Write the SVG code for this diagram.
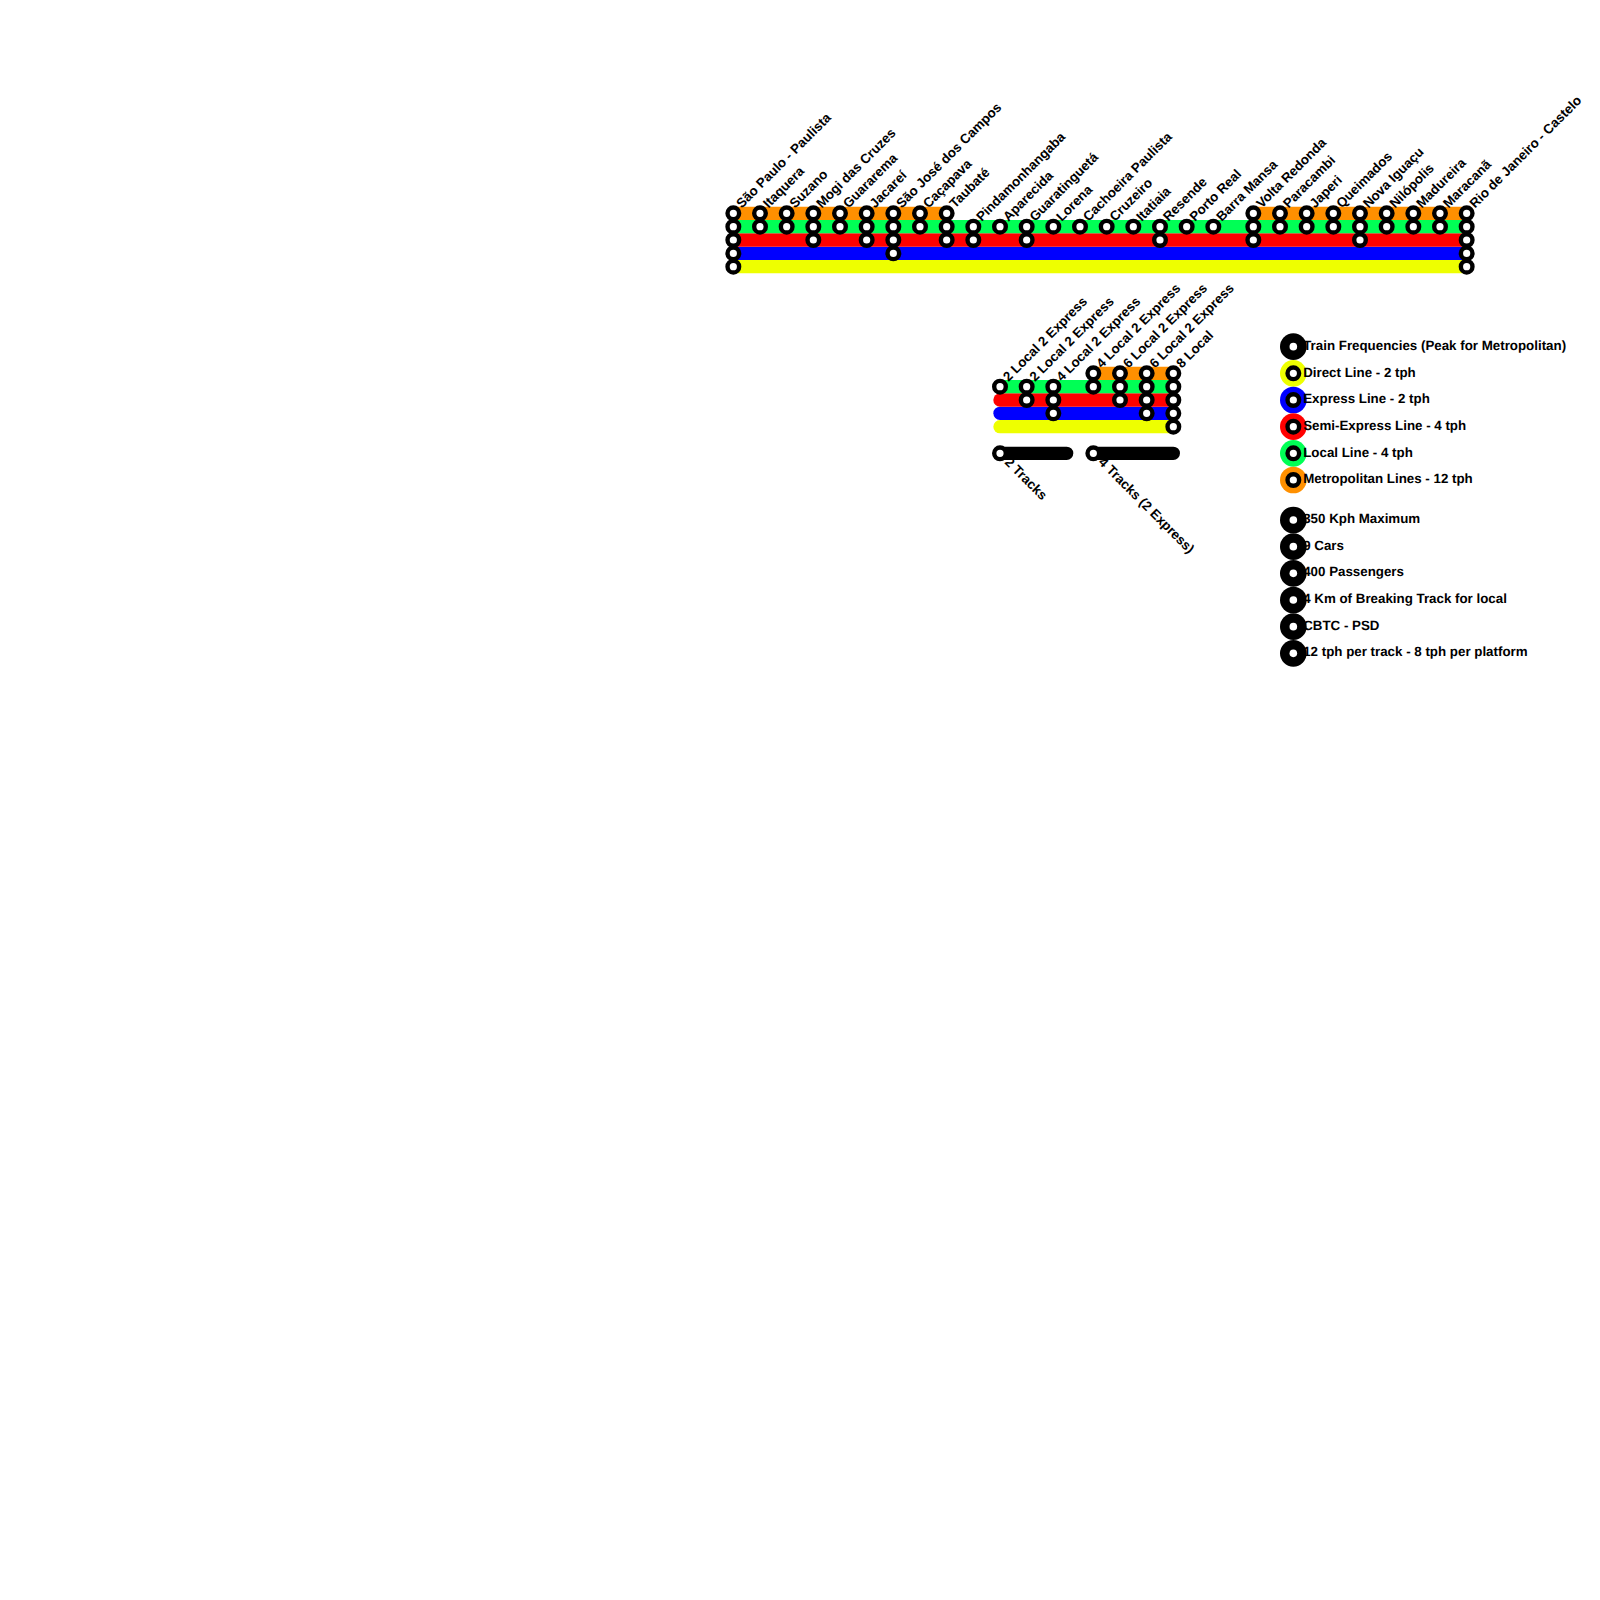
<svg xmlns="http://www.w3.org/2000/svg" width="1600" height="1600" viewBox="0 0 1600 1600">
<style>
text{font-family:"Liberation Sans",Arial,sans-serif;font-weight:700;font-size:13.33px;fill:#000;text-rendering:geometricPrecision}
.l{fill:none;stroke-width:13.33;stroke-linecap:round}
.o{stroke:#ff9000}.g{stroke:#00ff55}.r{stroke:#ff0000}.b{stroke:#0000ff}.y{stroke:#eeff00}.k{stroke:#000}
.s{fill:#fff;stroke:#000;stroke-width:4.4}
</style>
<rect width="1600" height="1600" fill="#fff"/>
<g id="connectors">
<path class="l y" d="M733.33 266.67H1466.67"/>
<path class="l b" d="M733.33 253.33H1466.67"/>
<path class="l r" d="M733.33 240H1466.67"/>
<path class="l g" d="M733.33 226.67H1466.67"/>
<path class="l o" d="M733.33 213.33H946.67M1253.33 213.33H1466.67"/>
<path class="l y" d="M1000 426.67H1173.33"/>
<path class="l b" d="M1000 413.33H1173.33"/>
<path class="l r" d="M1000 400H1173.33"/>
<path class="l g" d="M1000 386.67H1173.33"/>
<path class="l o" d="M1093.33 373.33H1173.33"/>
<path class="l k" d="M1000 453.33H1066.67M1093.33 453.33H1173.33"/>
</g>
<g id="stations-main">
<g id="n00"><circle class="s" cx="733.33" cy="213.33" r="5.8"/><circle class="s" cx="733.33" cy="226.67" r="5.8"/><circle class="s" cx="733.33" cy="240" r="5.8"/><circle class="s" cx="733.33" cy="253.33" r="5.8"/><circle class="s" cx="733.33" cy="266.67" r="5.8"/><text transform="translate(741.7 208.7) rotate(-45)">São Paulo - Paulista</text></g>
<g id="n01"><circle class="s" cx="760" cy="213.33" r="5.8"/><circle class="s" cx="760" cy="226.67" r="5.8"/><text transform="translate(768.4 208.7) rotate(-45)">Itaquera</text></g>
<g id="n02"><circle class="s" cx="786.67" cy="213.33" r="5.8"/><circle class="s" cx="786.67" cy="226.67" r="5.8"/><text transform="translate(795 208.7) rotate(-45)">Suzano</text></g>
<g id="n03"><circle class="s" cx="813.33" cy="213.33" r="5.8"/><circle class="s" cx="813.33" cy="226.67" r="5.8"/><circle class="s" cx="813.33" cy="240" r="5.8"/><text transform="translate(821.7 208.7) rotate(-45)">Mogi das Cruzes</text></g>
<g id="n04"><circle class="s" cx="840" cy="213.33" r="5.8"/><circle class="s" cx="840" cy="226.67" r="5.8"/><text transform="translate(848.4 208.7) rotate(-45)">Guararema</text></g>
<g id="n05"><circle class="s" cx="866.67" cy="213.33" r="5.8"/><circle class="s" cx="866.67" cy="226.67" r="5.8"/><circle class="s" cx="866.67" cy="240" r="5.8"/><text transform="translate(875 208.7) rotate(-45)">Jacareí</text></g>
<g id="n06"><circle class="s" cx="893.33" cy="213.33" r="5.8"/><circle class="s" cx="893.33" cy="226.67" r="5.8"/><circle class="s" cx="893.33" cy="240" r="5.8"/><circle class="s" cx="893.33" cy="253.33" r="5.8"/><text transform="translate(901.7 208.7) rotate(-45)">São José dos Campos</text></g>
<g id="n07"><circle class="s" cx="920" cy="213.33" r="5.8"/><circle class="s" cx="920" cy="226.67" r="5.8"/><text transform="translate(928.4 208.7) rotate(-45)">Caçapava</text></g>
<g id="n08"><circle class="s" cx="946.67" cy="213.33" r="5.8"/><circle class="s" cx="946.67" cy="226.67" r="5.8"/><circle class="s" cx="946.67" cy="240" r="5.8"/><text transform="translate(955 208.7) rotate(-45)">Taubaté</text></g>
<g id="n09"><circle class="s" cx="973.33" cy="226.67" r="5.8"/><circle class="s" cx="973.33" cy="240" r="5.8"/><text transform="translate(981.7 222) rotate(-45)">Pindamonhangaba</text></g>
<g id="n10"><circle class="s" cx="1000" cy="226.67" r="5.8"/><text transform="translate(1008.4 222) rotate(-45)">Aparecida</text></g>
<g id="n11"><circle class="s" cx="1026.67" cy="226.67" r="5.8"/><circle class="s" cx="1026.67" cy="240" r="5.8"/><text transform="translate(1035 222) rotate(-45)">Guaratinguetá</text></g>
<g id="n12"><circle class="s" cx="1053.33" cy="226.67" r="5.8"/><text transform="translate(1061.7 222) rotate(-45)">Lorena</text></g>
<g id="n13"><circle class="s" cx="1080" cy="226.67" r="5.8"/><text transform="translate(1088.4 222) rotate(-45)">Cachoeira Paulista</text></g>
<g id="n14"><circle class="s" cx="1106.67" cy="226.67" r="5.8"/><text transform="translate(1115 222) rotate(-45)">Cruzeiro</text></g>
<g id="n15"><circle class="s" cx="1133.33" cy="226.67" r="5.8"/><text transform="translate(1141.7 222) rotate(-45)">Itatiaia</text></g>
<g id="n16"><circle class="s" cx="1160" cy="226.67" r="5.8"/><circle class="s" cx="1160" cy="240" r="5.8"/><text transform="translate(1168.4 222) rotate(-45)">Resende</text></g>
<g id="n17"><circle class="s" cx="1186.67" cy="226.67" r="5.8"/><text transform="translate(1195 222) rotate(-45)">Porto Real</text></g>
<g id="n18"><circle class="s" cx="1213.33" cy="226.67" r="5.8"/><text transform="translate(1221.7 222) rotate(-45)">Barra Mansa</text></g>
<g id="n19"><circle class="s" cx="1253.33" cy="213.33" r="5.8"/><circle class="s" cx="1253.33" cy="226.67" r="5.8"/><circle class="s" cx="1253.33" cy="240" r="5.8"/><text transform="translate(1261.7 208.7) rotate(-45)">Volta Redonda</text></g>
<g id="n20"><circle class="s" cx="1280" cy="213.33" r="5.8"/><circle class="s" cx="1280" cy="226.67" r="5.8"/><text transform="translate(1288.4 208.7) rotate(-45)">Paracambi</text></g>
<g id="n21"><circle class="s" cx="1306.67" cy="213.33" r="5.8"/><circle class="s" cx="1306.67" cy="226.67" r="5.8"/><text transform="translate(1315 208.7) rotate(-45)">Japeri</text></g>
<g id="n22"><circle class="s" cx="1333.33" cy="213.33" r="5.8"/><circle class="s" cx="1333.33" cy="226.67" r="5.8"/><text transform="translate(1341.7 208.7) rotate(-45)">Queimados</text></g>
<g id="n23"><circle class="s" cx="1360" cy="213.33" r="5.8"/><circle class="s" cx="1360" cy="226.67" r="5.8"/><circle class="s" cx="1360" cy="240" r="5.8"/><text transform="translate(1368.4 208.7) rotate(-45)">Nova Iguaçu</text></g>
<g id="n24"><circle class="s" cx="1386.67" cy="213.33" r="5.8"/><circle class="s" cx="1386.67" cy="226.67" r="5.8"/><text transform="translate(1395 208.7) rotate(-45)">Nilópolis</text></g>
<g id="n25"><circle class="s" cx="1413.33" cy="213.33" r="5.8"/><circle class="s" cx="1413.33" cy="226.67" r="5.8"/><text transform="translate(1421.7 208.7) rotate(-45)">Madureira</text></g>
<g id="n26"><circle class="s" cx="1440" cy="213.33" r="5.8"/><circle class="s" cx="1440" cy="226.67" r="5.8"/><text transform="translate(1448.4 208.7) rotate(-45)">Maracanã</text></g>
<g id="n27"><circle class="s" cx="1466.67" cy="213.33" r="5.8"/><circle class="s" cx="1466.67" cy="226.67" r="5.8"/><circle class="s" cx="1466.67" cy="240" r="5.8"/><circle class="s" cx="1466.67" cy="253.33" r="5.8"/><circle class="s" cx="1466.67" cy="266.67" r="5.8"/><text transform="translate(1475 208.7) rotate(-45)">Rio de Janeiro - Castelo</text></g>
</g>
<g id="stations-frequency">
<g id="f1"><circle class="s" cx="1000" cy="386.67" r="5.8"/><text transform="translate(1008.4 382) rotate(-45)">2 Local 2 Express</text></g>
<g id="f2"><circle class="s" cx="1026.67" cy="386.67" r="5.8"/><circle class="s" cx="1026.67" cy="400" r="5.8"/><text transform="translate(1035 382) rotate(-45)">2 Local 2 Express</text></g>
<g id="f3"><circle class="s" cx="1053.33" cy="386.67" r="5.8"/><circle class="s" cx="1053.33" cy="400" r="5.8"/><circle class="s" cx="1053.33" cy="413.33" r="5.8"/><text transform="translate(1061.7 382) rotate(-45)">4 Local 2 Express</text></g>
<g id="f4"><circle class="s" cx="1093.33" cy="373.33" r="5.8"/><circle class="s" cx="1093.33" cy="386.67" r="5.8"/><text transform="translate(1101.7 368.7) rotate(-45)">4 Local 2 Express</text></g>
<g id="f5"><circle class="s" cx="1120" cy="373.33" r="5.8"/><circle class="s" cx="1120" cy="386.67" r="5.8"/><circle class="s" cx="1120" cy="400" r="5.8"/><text transform="translate(1128.4 368.7) rotate(-45)">6 Local 2 Express</text></g>
<g id="f6"><circle class="s" cx="1146.67" cy="373.33" r="5.8"/><circle class="s" cx="1146.67" cy="386.67" r="5.8"/><circle class="s" cx="1146.67" cy="400" r="5.8"/><circle class="s" cx="1146.67" cy="413.33" r="5.8"/><text transform="translate(1155 368.7) rotate(-45)">6 Local 2 Express</text></g>
<g id="f7"><circle class="s" cx="1173.33" cy="373.33" r="5.8"/><circle class="s" cx="1173.33" cy="386.67" r="5.8"/><circle class="s" cx="1173.33" cy="400" r="5.8"/><circle class="s" cx="1173.33" cy="413.33" r="5.8"/><circle class="s" cx="1173.33" cy="426.67" r="5.8"/><text transform="translate(1181.7 368.7) rotate(-45)">8 Local</text></g>
<g id="t1"><circle class="s" cx="1000" cy="453.33" r="5.8"/><text transform="translate(1004 463) rotate(45)">2 Tracks</text></g>
<g id="t2"><circle class="s" cx="1093.33" cy="453.33" r="5.8"/><text transform="translate(1097.8 463) rotate(45)">4 Tracks (2 Express)</text></g>
</g>
<g id="legend">
<g id="lg1"><circle cx="1293.33" cy="346.67" r="13.33"/><circle cx="1293.33" cy="346.67" r="3.8" fill="#fff"/><text x="1303.2" y="350">Train Frequencies (Peak for Metropolitan)</text></g>
<g id="lg2"><circle cx="1293.33" cy="373.33" r="13.33" fill="#eeff00"/><circle class="s" cx="1293.33" cy="373.33" r="5.8"/><text x="1303.2" y="376.5">Direct Line - 2 tph</text></g>
<g id="lg3"><circle cx="1293.33" cy="400" r="13.33" fill="#0000ff"/><circle class="s" cx="1293.33" cy="400" r="5.8"/><text x="1303.2" y="403">Express Line - 2 tph</text></g>
<g id="lg4"><circle cx="1293.33" cy="426.67" r="13.33" fill="#ff0000"/><circle class="s" cx="1293.33" cy="426.67" r="5.8"/><text x="1303.2" y="429.7">Semi-Express Line - 4 tph</text></g>
<g id="lg5"><circle cx="1293.33" cy="453.33" r="13.33" fill="#00ff55"/><circle class="s" cx="1293.33" cy="453.33" r="5.8"/><text x="1303.2" y="456.7">Local Line - 4 tph</text></g>
<g id="lg6"><circle cx="1293.33" cy="480" r="13.33" fill="#ff9000"/><circle class="s" cx="1293.33" cy="480" r="5.8"/><text x="1303.2" y="483">Metropolitan Lines - 12 tph</text></g>
<g id="lg7"><circle cx="1293.33" cy="520" r="13.33"/><circle cx="1293.33" cy="520" r="3.8" fill="#fff"/><text x="1303.2" y="523">350 Kph Maximum</text></g>
<g id="lg8"><circle cx="1293.33" cy="546.67" r="13.33"/><circle cx="1293.33" cy="546.67" r="3.8" fill="#fff"/><text x="1303.2" y="549.7">9 Cars</text></g>
<g id="lg9"><circle cx="1293.33" cy="573.33" r="13.33"/><circle cx="1293.33" cy="573.33" r="3.8" fill="#fff"/><text x="1303.2" y="576.3">400 Passengers</text></g>
<g id="lg10"><circle cx="1293.33" cy="600" r="13.33"/><circle cx="1293.33" cy="600" r="3.8" fill="#fff"/><text x="1303.2" y="603">4 Km of Breaking Track for local</text></g>
<g id="lg11"><circle cx="1293.33" cy="626.67" r="13.33"/><circle cx="1293.33" cy="626.67" r="3.8" fill="#fff"/><text x="1303.2" y="629.7">CBTC - PSD</text></g>
<g id="lg12"><circle cx="1293.33" cy="653.33" r="13.33"/><circle cx="1293.33" cy="653.33" r="3.8" fill="#fff"/><text x="1303.2" y="656.3">12 tph per track - 8 tph per platform</text></g>
</g>
</svg>
